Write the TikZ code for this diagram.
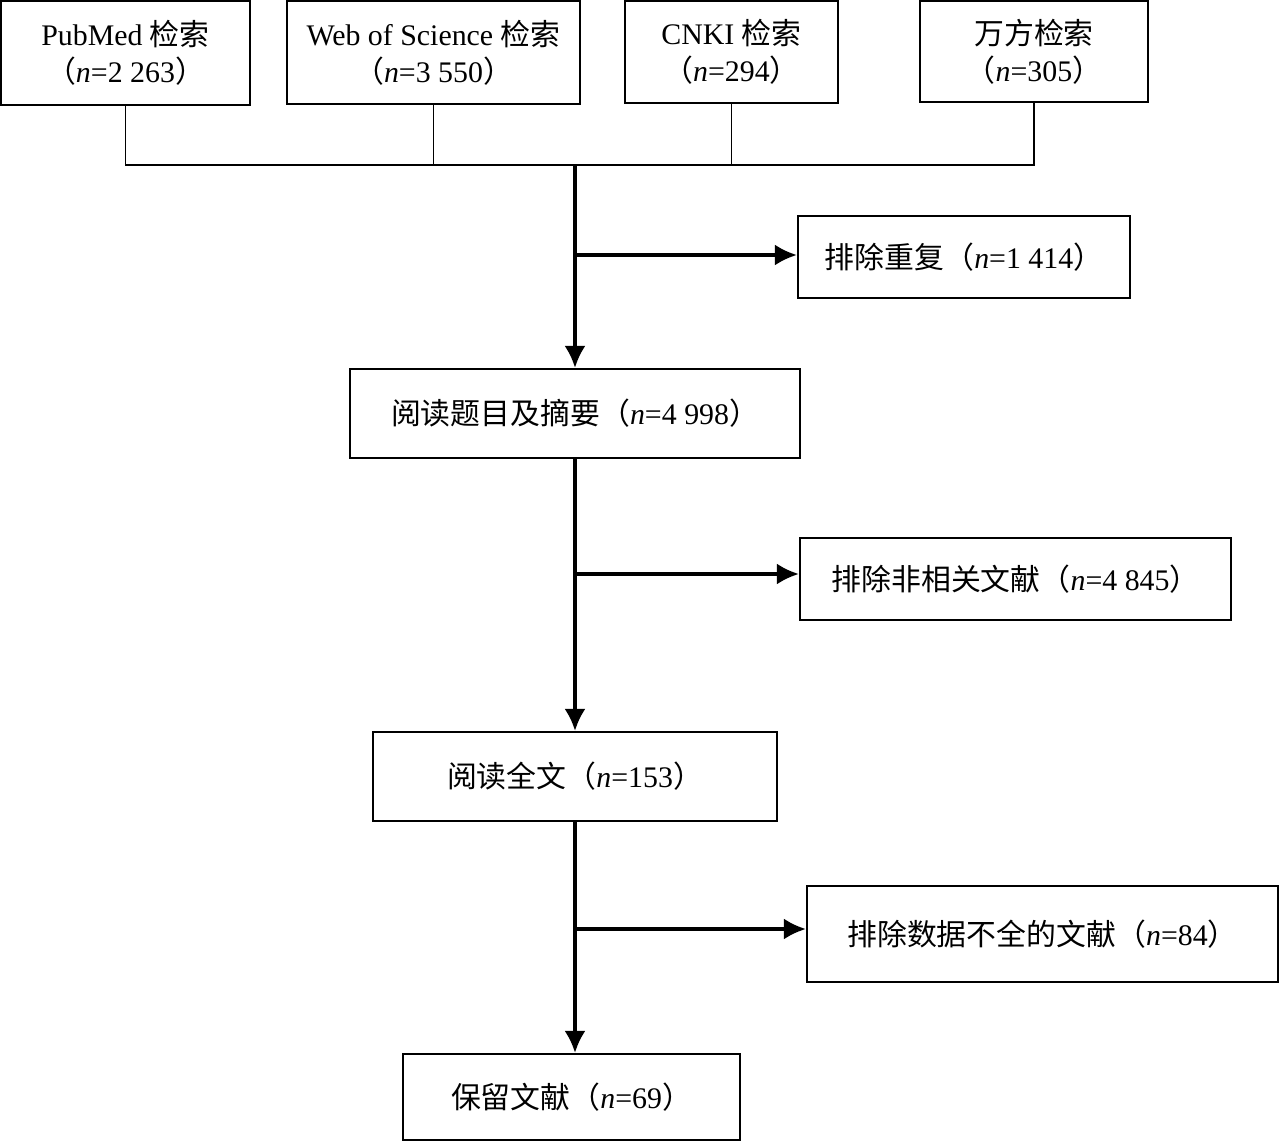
\documentclass[tikz,border=0pt]{standalone}
\usepackage{fontspec}
\setmainfont{Liberation Serif}
\newfontfamily\cjk{Noto Sans CJK SC}
\usetikzlibrary{arrows.meta,positioning,calc}
\newcommand{\zh}[1]{{\cjk #1}}
\tikzset{
  srcnode/.style={draw, rectangle, line width=1.2pt, inner sep=0pt, align=center, font=\fontsize{17}{21}\selectfont},
  stagenode/.style={draw, rectangle, line width=1.2pt, inner sep=0pt, align=center, font=\fontsize{17}{21}\selectfont},
  exclnode/.style={draw, rectangle, line width=1.2pt, inner sep=0pt, align=center, font=\fontsize{17}{21}\selectfont},
  link/.style={line width=1.1pt},
  flow/.style={line width=2pt, -{Latex[length=0.44cm,width=0.42cm]}}
}

\begin{document}
\begin{tikzpicture}
  \useasboundingbox (0,0) rectangle (25.6,-22.84);
  \node[srcnode, minimum width=4.98cm, minimum height=2.08cm] (pub) at (2.51,-1.06) {PubMed \zh{检索}\\\zh{（}\textit{n}=2~263\zh{）}};
  \node[srcnode, minimum width=5.86cm, minimum height=2.06cm] (wos) at (8.67,-1.05) {Web of Science \zh{检索}\\\zh{（}\textit{n}=3~550\zh{）}};
  \node[srcnode, minimum width=4.26cm, minimum height=2.04cm] (cnki) at (14.63,-1.04) {CNKI \zh{检索}\\\zh{（}\textit{n}=294\zh{）}};
  \node[srcnode, minimum width=4.56cm, minimum height=2.02cm] (wf) at (20.68,-1.03) {\zh{万方检索}\\\zh{（}\textit{n}=305\zh{）}};

  \coordinate (j1) at (11.5,-3.3);
  \coordinate (b1) at (11.5,-5.1);
  \coordinate (b2) at (11.5,-11.48);
  \coordinate (b3) at (11.5,-18.58);

  \node[stagenode, minimum width=9.0cm, minimum height=1.78cm] (title) at (11.5,-8.27) {\zh{阅读题目及摘要（}\textit{n}=4~998\zh{）}};
  \node[stagenode, minimum width=8.08cm, minimum height=1.78cm] (full) at (11.5,-15.53) {\zh{阅读全文（}\textit{n}=153\zh{）}};
  \node[stagenode, minimum width=6.74cm, minimum height=1.72cm] (keep) at (11.43,-21.94) {\zh{保留文献（}\textit{n}=69\zh{）}};

  \node[exclnode, minimum width=6.64cm, minimum height=1.64cm] (dup) at (19.28,-5.14) {\zh{排除重复（}\textit{n}=1~414\zh{）}};
  \node[exclnode, minimum width=8.62cm, minimum height=1.64cm] (irr) at (20.31,-11.58) {\zh{排除非相关文献（}\textit{n}=4~845\zh{）}};
  \node[exclnode, minimum width=9.42cm, minimum height=1.92cm] (inc) at (20.85,-18.68) {\zh{排除数据不全的文献（}\textit{n}=84\zh{）}};

  \draw[link] (pub.south) -- (pub.south |- j1) -- (wf.south |- j1) -- (wf.south);
  \draw[link] (wos.south) -- (wos.south |- j1);
  \draw[link] (cnki.south) -- (cnki.south |- j1);

  \draw[flow] (j1) -- (title.north);
  \draw[flow] (title.south) -- (full.north);
  \draw[flow] (full.south) -- (full.south |- keep.north);

  \draw[flow] (b1) -- (b1 -| dup.west);
  \draw[flow] (b2) -- (b2 -| irr.west);
  \draw[flow] (b3) -- (b3 -| inc.west);
\end{tikzpicture}
\end{document}
